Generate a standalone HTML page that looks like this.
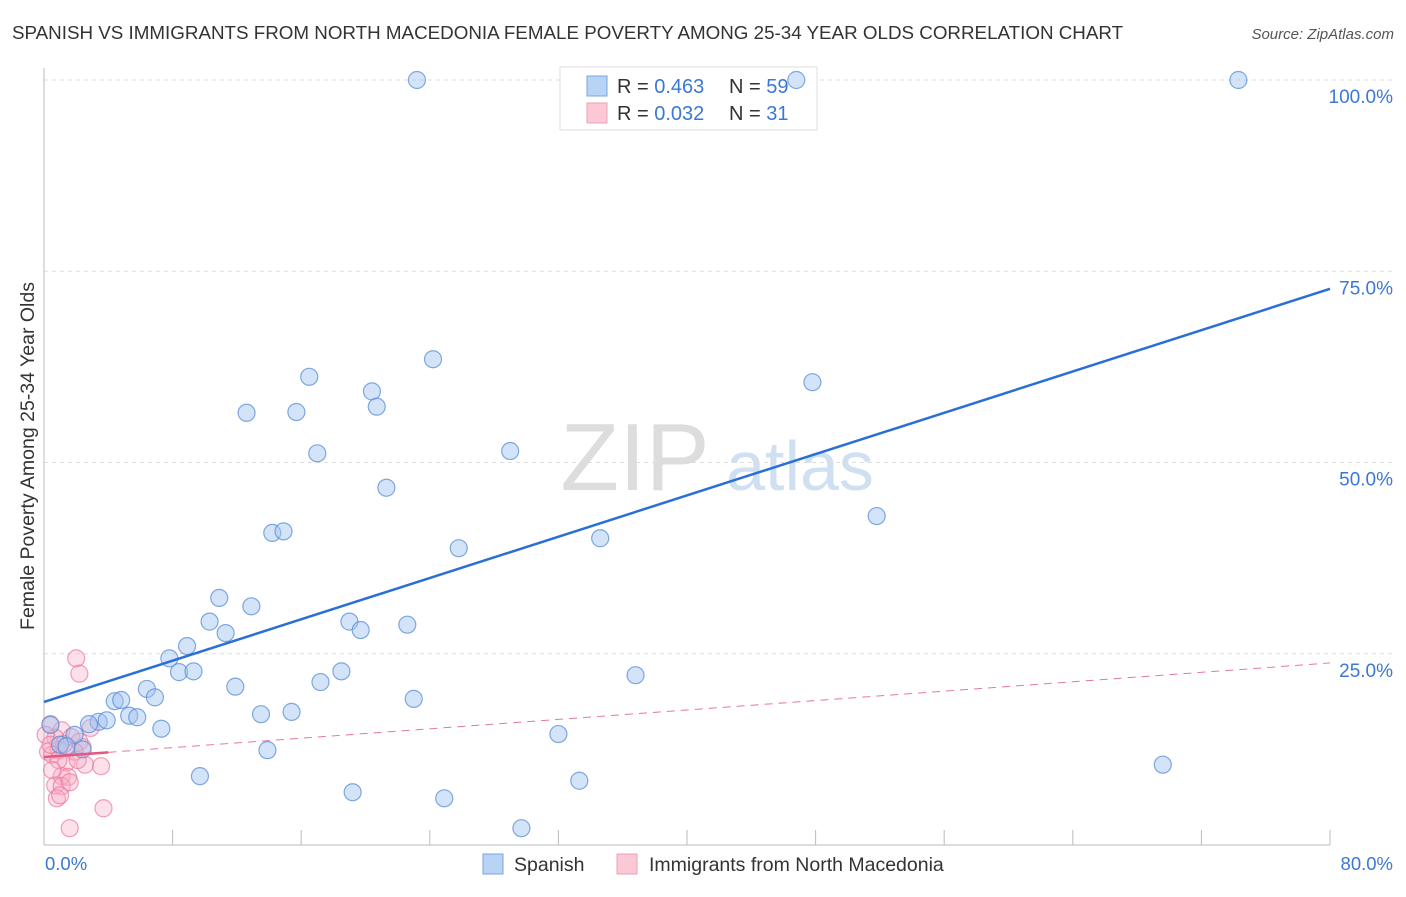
<!DOCTYPE html>
<html><head><meta charset="utf-8"><style>
body{margin:0;background:#fff;font-family:"Liberation Sans",sans-serif}
svg text{font-family:"Liberation Sans",sans-serif}
</style></head><body>
<svg id="chart" width="1406" height="892" xmlns="http://www.w3.org/2000/svg">
<text x="12" y="39" font-size="18.8" fill="#333">SPANISH VS IMMIGRANTS FROM NORTH MACEDONIA FEMALE POVERTY AMONG 25-34 YEAR OLDS CORRELATION CHART</text>
<text x="1394" y="39" font-size="15" fill="#555" text-anchor="end" font-style="italic">Source: ZipAtlas.com</text>
<text transform="translate(34,456) rotate(-90)" font-size="19.5" fill="#333" text-anchor="middle">Female Poverty Among 25-34 Year Olds</text>
<g><text x="635" y="490" font-size="96" fill="#ddd" font-family="Liberation Serif" text-anchor="middle">ZIP</text><text x="800" y="490" font-size="70" fill="#cfe0f3" text-anchor="middle">atlas</text></g>
<g id="grid"></g><g id="axes"></g>
<g>
<rect x="560" y="67" width="257" height="63" fill="#fff" stroke="#ddd"/>
<rect x="587" y="76" width="20" height="20" fill="#b8d4f5" stroke="#7aa6e0"/>
<text x="617" y="93" font-size="20" fill="#333">R = <tspan fill="#3b78d4">0.463</tspan></text>
<text x="729" y="93" font-size="20" fill="#333">N = <tspan fill="#3b78d4">59</tspan></text>
<rect x="587" y="103" width="20" height="20" fill="#fcc8d6" stroke="#eea0b5"/>
<text x="617" y="120" font-size="20" fill="#333">R = <tspan fill="#3b78d4">0.032</tspan></text>
<text x="729" y="120" font-size="20" fill="#333">N = <tspan fill="#3b78d4">  31</tspan></text>
</g>
<g id="pts"></g><g id="lines"></g>
<g>
<rect x="483" y="854" width="20" height="20" fill="#b8d4f5" stroke="#7aa6e0"/>
<text x="514" y="871" font-size="19.5" fill="#333">Spanish</text>
<rect x="617" y="854" width="20" height="20" fill="#fcc8d6" stroke="#eea0b5"/>
<text x="649" y="871" font-size="19.5" fill="#333">Immigrants from North Macedonia</text>
</g>
</svg>
<script>
const blueX=[23.2,46.8,74.3,24.2,16.5,47.8,20.4,20.7,12.6,15.7,17.0,29.0,21.3,51.8,14.2,14.9,25.8,34.6,10.9,12.9,10.3,11.3,19.0,19.7,22.6,8.9,7.8,8.4,9.3,18.5,17.2,36.8,6.4,11.9,4.4,4.8,6.9,23.0,5.3,5.8,13.5,15.4,3.4,3.9,2.8,7.3,0.4,1.9,1.0,1.4,2.4,32.0,13.9,9.7,19.2,24.9,33.3,29.7,69.6];
const blueY=[100,100,100,63.5,61.2,60.5,59.3,57.3,56.5,56.6,51.2,51.5,46.7,43.0,40.8,41.0,38.8,40.1,32.3,31.2,29.2,27.7,29.2,28.1,28.8,26.0,24.4,22.6,22.7,22.7,21.3,22.2,20.4,20.7,18.8,18.95,19.3,19.1,16.9,16.7,17.1,17.4,16.1,16.3,15.8,15.2,15.7,14.4,13.1,12.9,12.5,14.5,12.4,9.0,6.9,6.1,8.4,2.2,10.5];
const pinkX=[2.0,2.2,0.4,1.1,2.9,0.7,1.7,2.2,0.25,0.9,0.5,1.4,2.55,3.55,1.1,1.5,0.7,1.1,1.6,0.8,1.0,3.7,1.6,2.4,1.9,0.1,1.25,0.4,0.9,2.1,0.5];
const pinkY=[24.4,22.4,15.8,15.0,15.3,14.0,14.1,13.5,12.2,12.4,11.8,10.8,10.5,10.3,9.0,8.9,7.8,7.7,8.2,6.1,6.5,4.8,2.2,12.8,12.2,14.4,13.2,13.1,11.1,11.1,9.8];
const blueFit=[18.7,72.7];
const pinkFit=[11.5,23.8];
const yTicks=[25,50,75,100];
const yTickLabels=["25.0%","50.0%","75.0%","100.0%"];
const xTicks=[8,16,24,32,40,48,56,64,72,80];
const NS="http://www.w3.org/2000/svg";
const X=v=>44+v/80*1286, Y=v=>845-v*7.65;
function mk(p,t,a){const e=document.createElementNS(NS,t);for(const k in a)e.setAttribute(k,a[k]);document.getElementById(p).appendChild(e);return e;}
yTicks.forEach((t,i)=>{
 const g=mk('grid','line',{x1:44,x2:1394,y1:Y(t),y2:Y(t),stroke:'#ddd','stroke-dasharray':'4,4'});
 
 
 const l=mk('grid','text',{x:1393,y:Y(t)+23,'font-size':19,fill:'#3b78d4','text-anchor':'end'});l.textContent=yTickLabels[i];
 
 
});
let a=mk('axes','line',{x1:44,x2:44,y1:68,y2:845,stroke:'#bbb'});


a=mk('axes','line',{x1:44,x2:1330,y1:845,y2:845,stroke:'#bbb'});


xTicks.forEach(t=>{const e=mk('axes','line',{x1:X(t),x2:X(t),y1:830,y2:845,stroke:'#bbb'});
 
 });
let t=mk('axes','text',{x:45,y:870,'font-size':18.5,fill:'#3b78d4'});t.textContent='0.0%';


t=mk('axes','text',{x:1393,y:870,'font-size':18.5,fill:'#3b78d4','text-anchor':'end'});t.textContent='80.0%';


pinkX.forEach((x,i)=>{const c=mk('pts','circle',{cx:X(x),cy:Y(pinkY[i]),r:8.5,fill:'rgba(248,170,195,0.35)',stroke:'rgba(235,120,155,0.7)','stroke-width':1.2});
 
 });
blueX.forEach((x,i)=>{const c=mk('pts','circle',{cx:X(x),cy:Y(blueY[i]),r:8.5,fill:'rgba(160,196,240,0.45)',stroke:'rgba(90,140,215,0.75)','stroke-width':1.2});
 
 });
let L=mk('lines','line',{x1:X(0),y1:Y(blueFit[0]),x2:X(80),y2:Y(blueFit[1]),stroke:'#2a6fd6','stroke-width':2.5});


const py=v=>pinkFit[0]+(pinkFit[1]-pinkFit[0])*v/80;
L=mk('lines','line',{x1:X(0),y1:Y(py(0)),x2:X(4),y2:Y(py(4)),stroke:'#e8557f','stroke-width':2.5});


L=mk('lines','line',{x1:X(4),y1:Y(py(4)),x2:X(80),y2:Y(py(80)),stroke:'#e8779a','stroke-width':1,'stroke-dasharray':'8,6'});


</script>
</body></html>
